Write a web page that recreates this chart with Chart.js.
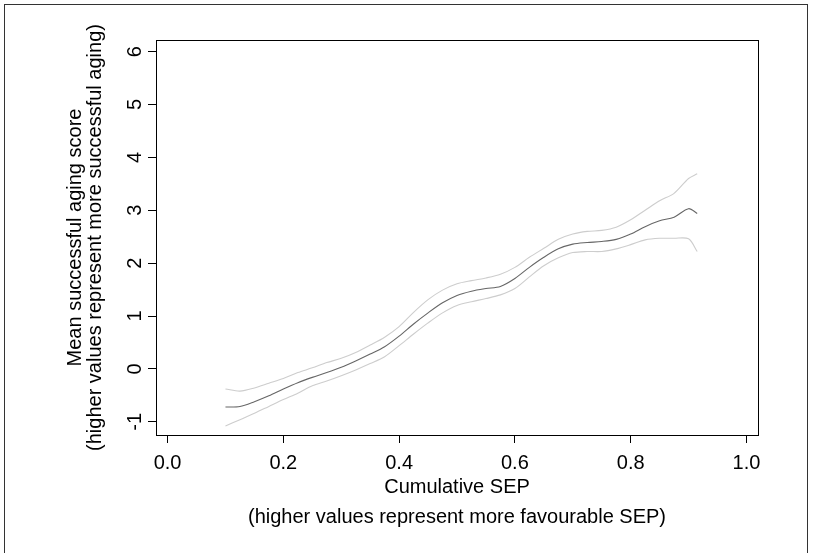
<!DOCTYPE html>
<html>
<head>
<meta charset="utf-8">
<script src="https://cdn.jsdelivr.net/npm/chart.js@4"></script>
<style>
  html, body { margin: 0; padding: 0; background: #fff; }
  #wrap { position: relative; width: 816px; height: 553px; }
  #frame { position: absolute; left: 4px; top: 4px; right: 8px; bottom: -4px; border: 1px solid #333; pointer-events: none; }
</style>
</head>
<body>
<div id="wrap">
  <canvas id="chart" width="816" height="553"></canvas>
  <div id="frame"></div>
</div>
<script>
  // cumulative SEP grid and the three smoothed curves
  const sepValues = [0.100, 0.125, 0.150, 0.175, 0.200, 0.225, 0.250, 0.275, 0.300, 0.325,
    0.350, 0.375, 0.400, 0.425, 0.450, 0.475, 0.500, 0.525, 0.550, 0.575,
    0.600, 0.625, 0.650, 0.675, 0.700, 0.725, 0.750, 0.775, 0.800, 0.825,
    0.850, 0.875, 0.900, 0.915];
  const meanScore = [-0.72, -0.71, -0.62, -0.51, -0.38, -0.26, -0.16, -0.07, 0.03, 0.15,
    0.28, 0.42, 0.62, 0.85, 1.06, 1.25, 1.39, 1.47, 1.52, 1.56,
    1.71, 1.92, 2.11, 2.27, 2.36, 2.39, 2.41, 2.45, 2.55, 2.69,
    2.80, 2.87, 3.03, 2.94];
  const upperBand = [-0.38, -0.42, -0.36, -0.27, -0.18, -0.07, 0.02, 0.12, 0.20, 0.31,
    0.45, 0.60, 0.80, 1.07, 1.31, 1.49, 1.61, 1.67, 1.72, 1.79,
    1.92, 2.11, 2.28, 2.45, 2.55, 2.60, 2.62, 2.68, 2.82, 3.00,
    3.18, 3.32, 3.60, 3.69];
  const lowerBand = [-1.08, -0.96, -0.84, -0.71, -0.58, -0.46, -0.32, -0.23, -0.13, -0.02,
    0.10, 0.23, 0.44, 0.66, 0.87, 1.06, 1.20, 1.27, 1.33, 1.40,
    1.52, 1.74, 1.95, 2.10, 2.20, 2.22, 2.22, 2.27, 2.35, 2.44,
    2.47, 2.47, 2.46, 2.22];

  const xTicks = [0.0, 0.2, 0.4, 0.6, 0.8, 1.0];
  const yTicks = [-1, 0, 1, 2, 3, 4, 5, 6];

  const FONT = "'Liberation Sans', Arial, sans-serif";

  const toPoints = ys => sepValues.map((x, i) => ({ x, y: ys[i] }));

  // R-style full box around the plot region
  const boxPlugin = {
    id: 'box',
    afterDraw (chart) {
      const { ctx, chartArea: a } = chart;
      ctx.save();
      ctx.strokeStyle = '#000';
      ctx.lineWidth = 1;
      ctx.strokeRect(Math.round(a.left) + 0.5, Math.round(a.top) + 0.5,
        Math.round(a.right - a.left), Math.round(a.bottom - a.top));
      ctx.restore();
    }
  };

  const line = (label, ys, color) => ({
    label,
    data: toPoints(ys),
    borderColor: color,
    borderWidth: 1.1,
    pointRadius: 0,
    fill: false,
    tension: 0.3
  });

  new Chart(document.getElementById('chart'), {
    type: 'line',
    data: {
      datasets: [
        line('upper', upperBand, '#cdcdcd'),
        line('lower', lowerBand, '#cdcdcd'),
        line('mean', meanScore, '#666666')
      ]
    },
    options: {
      responsive: false,
      animation: false,
      devicePixelRatio: 1,
      layout: { padding: { left: 0, right: 58, top: 40, bottom: 0 } },
      plugins: { legend: { display: false }, tooltip: { enabled: false } },
      scales: {
        x: {
          type: 'linear',
          min: -0.02,
          max: 1.02,
          afterBuildTicks: s => { s.ticks = xTicks.map(v => ({ value: v })); },
          afterFit: s => { s.height = 118; },
          border: { display: false },
          grid: { drawOnChartArea: false, drawTicks: true, tickLength: 8, color: '#000', lineWidth: 1 },
          ticks: {
            color: '#000',
            padding: 8,
            maxRotation: 0,
            font: { family: FONT, size: 20 },
            callback: v => v.toFixed(1)
          },
          title: {
            display: true,
            text: ['Cumulative SEP', '(higher values represent more favourable SEP)'],
            color: '#000',
            font: { family: FONT, size: 20, lineHeight: 1.5 },
            padding: { top: 0, bottom: 21 }
          }
        },
        y: {
          min: -1.25,
          max: 6.22,
          afterBuildTicks: s => { s.ticks = yTicks.map(v => ({ value: v })); },
          afterFit: s => { s.width = 156; },
          border: { display: false },
          grid: { drawOnChartArea: false, drawTicks: true, tickLength: 8, color: '#000', lineWidth: 1 },
          ticks: {
            color: '#000',
            padding: 4,
            minRotation: 90,
            maxRotation: 90,
            crossAlign: 'center',
            font: { family: FONT, size: 20 },
            callback: v => String(v)
          },
          title: {
            display: true,
            text: ['Mean successful aging score', '(higher values represent more successful aging)'],
            color: '#000',
            font: { family: FONT, size: 20, lineHeight: 1.0 },
            padding: { top: 65, bottom: 0 }
          }
        }
      }
    },
    plugins: [boxPlugin]
  });
</script>
</body>
</html>
